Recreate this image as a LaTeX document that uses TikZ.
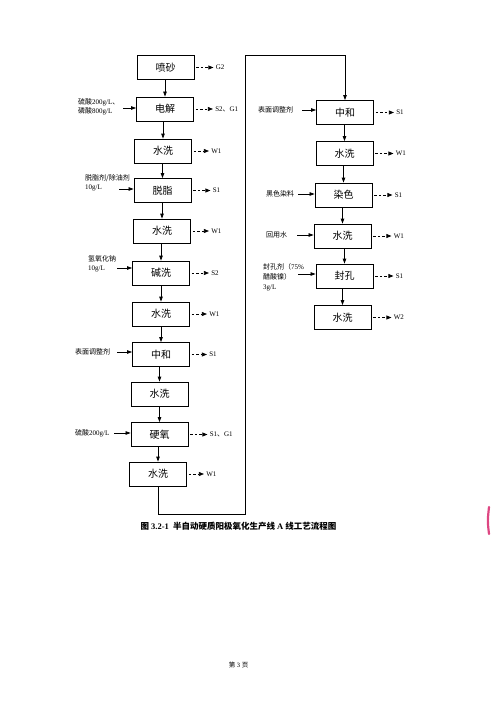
\documentclass[tikz,border=0pt]{standalone}
\usepackage{fontspec}
\setmainfont{Liberation Serif}
\newfontfamily\cjk{Noto Sans CJK SC}
\usetikzlibrary{arrows.meta}
\definecolor{scanpink}{RGB}{222,70,130}
\tikzset{
 proc/.style={draw, line width=0.8pt, minimum width=57pt, minimum height=24pt, inner sep=0pt, font=\cjk\fontsize{10}{12}\selectfont},
 feed/.style={-{Triangle[length=5pt,width=3.5pt]}, line width=0.7pt},
 flow/.style={-{Triangle[length=5pt,width=3.5pt]}, line width=0.8pt},
 outarr/.style={dash pattern=on 2.5pt off 2pt, -{Triangle[length=5pt,width=4pt]}, line width=0.7pt},
 lab/.style={font=\fontsize{7}{9}\selectfont, inner sep=0pt, align=left, anchor=north west},
 olab/.style={font=\fontsize{7}{8}\selectfont, inner sep=0pt, anchor=west, xshift=2pt},
}
\begin{document}
\begin{tikzpicture}[x=1pt,y=-1pt]
\useasboundingbox (0,0) rectangle (500,706);
% left column
\node[proc] (n1) at (165.5,67.5) {喷砂};
\node[proc] (n2) at (165,109) {电解};
\node[proc] (n3) at (163,151) {水洗};
\node[proc] (n4) at (162.5,190.5) {脱脂};
\node[proc] (n5) at (162,231) {水洗};
\node[proc] (n6) at (161,273) {碱洗};
\node[proc] (n7) at (161,314) {水洗};
\node[proc] (n8) at (161,354.5) {中和};
\node[proc] (n9) at (159.5,394) {水洗};
\node[proc] (n10) at (159.5,434.5) {硬氧};
\node[proc] (n11) at (158,474) {水洗};
% right column
\node[proc] (r1) at (345,112.5) {中和};
\node[proc] (r2) at (344.5,153.5) {水洗};
\node[proc] (r3) at (343.5,195) {染色};
\node[proc] (r4) at (342.5,236) {水洗};
\node[proc] (r5) at (344.5,276) {封孔};
\node[proc] (r6) at (342.5,317.5) {水洗};
% main flow
\foreach \a/\b in {n1/n2,n2/n3,n3/n4,n4/n5,n5/n6,n6/n7,n7/n8,n8/n9,n9/n10,n10/n11,r1/r2,r2/r3,r3/r4,r4/r5,r5/r6}
  \draw[flow] (\b.north |- \a.south) -- (\b.north);
\coordinate (c1) at (245,514);
\coordinate (c2) at (245,55);
\draw[flow] (n11.south) |- (c1) -- (c2) -| (r1.north);
% outputs
\draw[outarr] ([xshift=2pt]n1.east) -- ++(17,0) node[olab] (o1) {G2};
\draw[outarr] ([xshift=2pt]n2.east) -- ++(17,0) node[olab] (o2) {S2{\cjk 、}G1};
\draw[outarr] ([xshift=2pt]n3.east) -- ++(15,0) node[olab] (o3) {W1};
\draw[outarr] ([xshift=2pt]n4.east) -- ++(17,0) node[olab] (o4) {S1};
\draw[outarr] ([xshift=2pt]n5.east) -- ++(16,0) node[olab] (o5) {W1};
\draw[outarr] ([xshift=2pt]n6.east) -- ++(17,0) node[olab] (o6) {S2};
\draw[outarr] ([xshift=2pt]n7.east) -- ++(15,0) node[olab] (o7) {W1};
\draw[outarr] ([xshift=2pt]n8.east) -- ++(15,0) node[olab] (o8) {S1};
\draw[outarr] ([xshift=2pt]n10.east) -- ++(17,0) node[olab] (o10) {S1{\cjk 、}G1};
\draw[outarr] ([xshift=2pt]n11.east) -- ++(15,0) node[olab] (o11) {W1};
\draw[outarr] ([xshift=2pt]r1.east) -- ++(18,0) node[olab] (p1) {S1};
\draw[outarr] ([xshift=2pt]r2.east) -- ++(18,0) node[olab] (p2) {W1};
\draw[outarr] ([xshift=2pt]r3.east) -- ++(18,0) node[olab] (p3) {S1};
\draw[outarr] ([xshift=2pt]r4.east) -- ++(18,0) node[olab] (p4) {W1};
\draw[outarr] ([xshift=2pt]r5.east) -- ++(18,0) node[olab] (p5) {S1};
\draw[outarr] ([xshift=2pt]r6.east) -- ++(18,0) node[olab] (p6) {W2};
% inputs left
\node[lab] (l2) at (78,98) {{\cjk 硫酸}200g/L{\cjk 、}\\{\cjk 磷酸}800g/L};
\coordinate (f2) at (123,108);
\draw[feed] (f2) -- (f2 -| n2.west);
\node[lab] (l4) at (85,174) {{\cjk 脱脂剂/除油剂}\\10g/L};
\coordinate (f4) at (119,189);
\draw[feed] (f4) -- (f4 -| n4.west);
\node[lab] (l6) at (88,255) {{\cjk 氢氧化钠}\\10g/L};
\coordinate (f6) at (117,268);
\draw[feed] (f6) -- (f6 -| n6.west);
\node[lab] (l8) at (75,348) {{\cjk 表面调整剂}};
\coordinate (f8) at (117,352);
\draw[feed] (f8) -- (f8 -| n8.west);
\node[lab] (l10) at (75,429) {{\cjk 硫酸}200g/L};
\coordinate (f10) at (114,433);
\draw[feed] (f10) -- (f10 -| n10.west);
% inputs right
\node[lab] (m1) at (258,106) {{\cjk 表面调整剂}};
\coordinate (g1) at (302,110);
\draw[feed] (g1) -- (g1 -| r1.west);
\node[lab] (m3) at (266,190) {{\cjk 黑色染料}};
\coordinate (g3) at (298,194);
\draw[feed] (g3) -- (g3 -| r3.west);
\node[lab] (m4) at (266,231) {{\cjk 回用水}};
\coordinate (g4) at (297,235);
\draw[feed] (g4) -- (g4 -| r4.west);
\node[lab, font=\fontsize{7}{10}\selectfont] (m5) at (263,263) {{\cjk 封孔剂（}75\%\\{\cjk 醋酸镍）}\\3g/L};
\coordinate (g5) at (298,274);
\draw[feed] (g5) -- (g5 -| r5.west);
% caption and footer
\node[font=\bfseries\fontsize{8.5}{10}\selectfont, inner sep=0pt] (cap) at (238.5,526) {{\cjk 图} 3.2-1\ \ {\cjk 半自动硬质阳极氧化生产线} A {\cjk 线工艺流程图}};
\node[font=\fontsize{6.5}{8}\selectfont, inner sep=0pt] (foot) at (238.5,665) {{\cjk 第} 3 {\cjk 页}};
% scan mark
\draw[scanpink, line width=2.2pt, line cap=round] (489,507) .. controls (487.5,521) .. (489,534);
\end{tikzpicture}
\end{document}
